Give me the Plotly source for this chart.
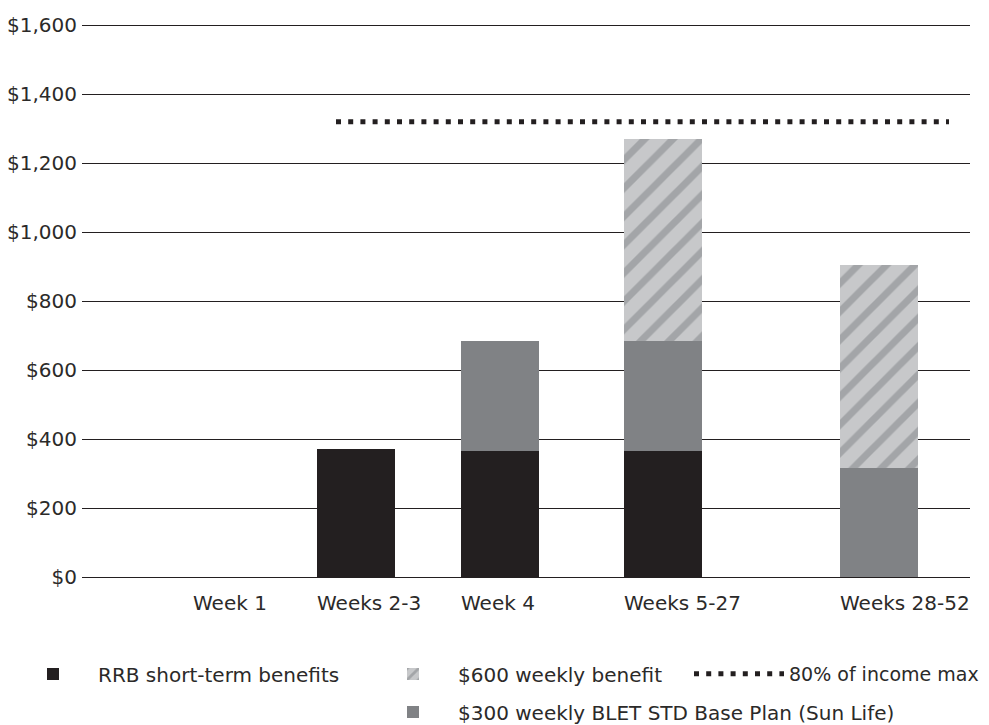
import plotly.graph_objects as go

# ---- data ----
categories = ["Week 1", "Weeks 2-3", "Week 4", "Weeks 5-27", "Weeks 28-52"]
rrb_short_term = [None, 370, 365, 365, None]
sun_life_base_300 = [None, None, 320, 320, 315]
weekly_benefit_600 = [None, None, None, 585, 590]
income_max_80 = 1320
y_tick_values = [0, 200, 400, 600, 800, 1000, 1200, 1400, 1600]
y_tick_labels = ["$0", "$200", "$400", "$600", "$800", "$1,000", "$1,200", "$1,400", "$1,600"]

series_names = [
    "RRB short-term benefits",
    "$600 weekly benefit",
    "80% of income max",
    "$300 weekly BLET STD Base Plan (Sun Life)",
]

# ---- layout helpers (positions / styles, not data) ----
slot_left = [111, 235, 379, 542, 758]      # left edge of each category slot (x-axis units)
bar_width = 78
slot_center = [s + bar_width / 2 for s in slot_left]
line_span = [slot_center[1] - 20, slot_center[4] + 70]

BLACK = "#231f20"
GREY = "#808285"
LIGHT = "#c7c8ca"
TEXT = "#2b2a29"
FONT = "DejaVu Sans"

fig = go.Figure()

fig.add_trace(go.Bar(
    x=slot_center, y=rrb_short_term, width=bar_width,
    name=series_names[0], marker=dict(color=BLACK, line=dict(width=0)),
    legend="legend", showlegend=True,
))
fig.add_trace(go.Bar(
    x=slot_center, y=sun_life_base_300, width=bar_width,
    name=series_names[3], marker=dict(color=GREY, line=dict(width=0)),
    legend="legend4", showlegend=True,
))
fig.add_trace(go.Bar(
    x=slot_center, y=weekly_benefit_600, width=bar_width,
    name=series_names[1],
    marker=dict(color=LIGHT, line=dict(width=0),
                pattern=dict(shape="/", bgcolor=LIGHT, fgcolor=GREY,
                             size=20, solidity=0.35, fillmode="overlay")),
    legend="legend2", showlegend=True,
))
fig.add_trace(go.Scatter(
    x=line_span, y=[income_max_80, income_max_80], mode="lines",
    name=series_names[2],
    line=dict(color=BLACK, width=5, dash="5px,7.2px"),
    legend="legend3", showlegend=True,
))

# page body has an 8px margin; work in page pixels and convert
OFF = 8
W, H = 989, 725
y_top = 1606
ml = 82 - OFF
mr = W - (970 - OFF)
mb = H - (577 - OFF)
scale = 552 / 1600
mt = round((577 - y_top * scale) - OFF)
pw = W - ml - mr
ph = H - mt - mb


def px_x(px):
    return (px - OFF - ml) / pw


def px_y(py):
    return (H - mb - (py - OFF)) / ph


leg_font = dict(family=FONT, size=20, color=TEXT)
common = dict(xanchor="left", yanchor="middle", bgcolor="rgba(0,0,0,0)",
              borderwidth=0, itemclick=False, itemdoubleclick=False)

fig.update_layout(
    width=W, height=H,
    margin=dict(l=ml, r=mr, t=mt, b=mb, autoexpand=False),
    paper_bgcolor="white", plot_bgcolor="white",
    barmode="stack", bargap=0, showlegend=True,
    font=dict(family=FONT, size=20, color=TEXT),
    legend=dict(x=px_x(8), y=px_y(674), itemwidth=80, font=leg_font, **common),
    legend2=dict(x=px_x(368), y=px_y(674), itemwidth=80, font=leg_font, **common),
    legend3=dict(x=px_x(689), y=px_y(674), itemwidth=90,
                 font=dict(family=FONT, size=19, color=TEXT), **common),
    legend4=dict(x=px_x(368), y=px_y(712), itemwidth=80, font=leg_font, **common),
    xaxis=dict(
        range=[0, pw], showgrid=False, zeroline=False, showline=False,
        tickmode="array", tickvals=slot_left, ticktext=categories,
        ticks="", ticklabelposition="outside right", ticklabelstandoff=12,
        tickfont=dict(family=FONT, size=20, color=TEXT), fixedrange=True,
    ),
    yaxis=dict(
        range=[0, y_top], tickmode="array", tickvals=y_tick_values,
        ticktext=y_tick_labels, ticks="", ticklabelstandoff=4,
        showgrid=True, gridcolor=BLACK, gridwidth=1.3,
        zeroline=True, zerolinecolor=BLACK, zerolinewidth=1.3,
        showline=False, tickfont=dict(family=FONT, size=20, color=TEXT),
        fixedrange=True,
    ),
)

fig.write_html("out.html")
